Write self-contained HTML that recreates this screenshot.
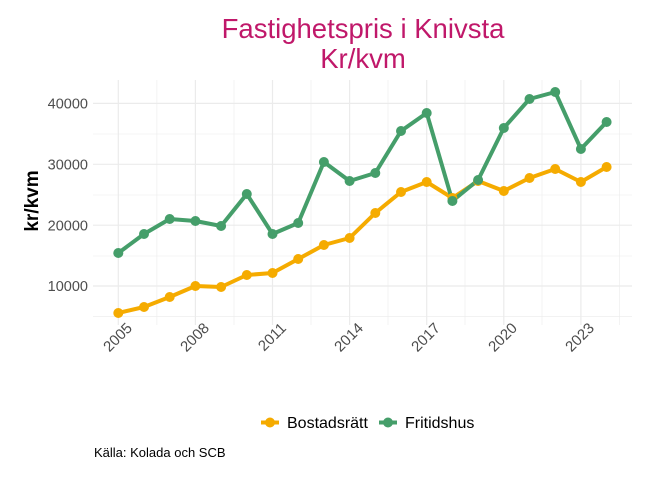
<!DOCTYPE html>
<html><head><meta charset="utf-8"><style>body{margin:0;background:#fff}svg{display:block}text{font-family:"Liberation Sans",sans-serif}</style></head><body>
<svg width="672" height="480" xmlns="http://www.w3.org/2000/svg">
<g stroke="#ebebeb" stroke-width="0.6">
<line x1="93" x2="632" y1="134" y2="134"/><line x1="93" x2="632" y1="195" y2="195"/><line x1="93" x2="632" y1="256" y2="256"/><line x1="93" x2="632" y1="316.7" y2="316.7"/>
<line y1="80" y2="325" x1="156.9" x2="156.9"/><line y1="80" y2="325" x1="234" x2="234"/><line y1="80" y2="325" x1="311" x2="311"/><line y1="80" y2="325" x1="388" x2="388"/><line y1="80" y2="325" x1="465" x2="465"/><line y1="80" y2="325" x1="542" x2="542"/><line y1="80" y2="325" x1="619.5" x2="619.5"/>
</g>
<g stroke="#ebebeb" stroke-width="1.2">
<line x1="93" x2="632" y1="103.4" y2="103.4"/><line x1="93" x2="632" y1="164.3" y2="164.3"/><line x1="93" x2="632" y1="225.2" y2="225.2"/><line x1="93" x2="632" y1="286" y2="286"/>
<line y1="80" y2="325" x1="118.3" x2="118.3"/><line y1="80" y2="325" x1="195.4" x2="195.4"/><line y1="80" y2="325" x1="272.5" x2="272.5"/><line y1="80" y2="325" x1="349.6" x2="349.6"/><line y1="80" y2="325" x1="426.7" x2="426.7"/><line y1="80" y2="325" x1="503.8" x2="503.8"/><line y1="80" y2="325" x1="580.9" x2="580.9"/>
</g>
<g font-size="14.5" fill="#4d4d4d" text-anchor="end">
<text x="88" y="108.5">40000</text><text x="88" y="169.5">30000</text><text x="88" y="230.3">20000</text><text x="88" y="291">10000</text>
</g>
<g font-size="15" fill="#4d4d4d" text-anchor="end">
<text transform="translate(133,329) rotate(-45)">2005</text>
<text transform="translate(210,329) rotate(-45)">2008</text>
<text transform="translate(287,329) rotate(-45)">2011</text>
<text transform="translate(364,329) rotate(-45)">2014</text>
<text transform="translate(441,329) rotate(-45)">2017</text>
<text transform="translate(518,329) rotate(-45)">2020</text>
<text transform="translate(595,329) rotate(-45)">2023</text>
</g>
<text transform="translate(38,201) rotate(-90)" font-size="19" font-weight="bold" text-anchor="middle" fill="#000">kr/kvm</text>
<text x="363" y="38" font-size="27.5" fill="#c0186a" text-anchor="middle">Fastighetspris i Knivsta</text>
<text x="363" y="68" font-size="27.5" fill="#c0186a" text-anchor="middle">Kr/kvm</text>
<g fill="none" stroke-width="4" stroke-linejoin="round">
<polyline stroke="#f5ab00" points="118.3,313 144,307 169.7,297 195.4,286 221.1,287 246.8,275 272.5,273 298.2,259 323.9,245 349.6,238 375.3,213 401,192 426.7,182 452.4,198 478.1,181 503.8,191 529.5,178 555.2,169 580.9,182 606.6,167"/>
<polyline stroke="#459e6a" points="118.3,253 144,234 169.7,219 195.4,221 221.1,226 246.8,194 272.5,234 298.2,223 323.9,162 349.6,181 375.3,173 401,131 426.7,113 452.4,201 478.1,180 503.8,128 529.5,99 555.2,92 580.9,149 606.6,122"/>
</g>
<g fill="#f5ab00">
<circle cx="118.3" cy="313" r="5"/><circle cx="144" cy="307" r="5"/><circle cx="169.7" cy="297" r="5"/><circle cx="195.4" cy="286" r="5"/><circle cx="221.1" cy="287" r="5"/><circle cx="246.8" cy="275" r="5"/><circle cx="272.5" cy="273" r="5"/><circle cx="298.2" cy="259" r="5"/><circle cx="323.9" cy="245" r="5"/><circle cx="349.6" cy="238" r="5"/><circle cx="375.3" cy="213" r="5"/><circle cx="401" cy="192" r="5"/><circle cx="426.7" cy="182" r="5"/><circle cx="452.4" cy="198" r="5"/><circle cx="478.1" cy="181" r="5"/><circle cx="503.8" cy="191" r="5"/><circle cx="529.5" cy="178" r="5"/><circle cx="555.2" cy="169" r="5"/><circle cx="580.9" cy="182" r="5"/><circle cx="606.6" cy="167" r="5"/>
</g>
<g fill="#459e6a">
<circle cx="118.3" cy="253" r="5"/><circle cx="144" cy="234" r="5"/><circle cx="169.7" cy="219" r="5"/><circle cx="195.4" cy="221" r="5"/><circle cx="221.1" cy="226" r="5"/><circle cx="246.8" cy="194" r="5"/><circle cx="272.5" cy="234" r="5"/><circle cx="298.2" cy="223" r="5"/><circle cx="323.9" cy="162" r="5"/><circle cx="349.6" cy="181" r="5"/><circle cx="375.3" cy="173" r="5"/><circle cx="401" cy="131" r="5"/><circle cx="426.7" cy="113" r="5"/><circle cx="452.4" cy="201" r="5"/><circle cx="478.1" cy="180" r="5"/><circle cx="503.8" cy="128" r="5"/><circle cx="529.5" cy="99" r="5"/><circle cx="555.2" cy="92" r="5"/><circle cx="580.9" cy="149" r="5"/><circle cx="606.6" cy="122" r="5"/>
</g>
<g>
<line x1="261" x2="279" y1="422.5" y2="422.5" stroke="#f5ab00" stroke-width="4"/><circle cx="270" cy="422.5" r="5" fill="#f5ab00"/>
<text x="287" y="428" font-size="16" fill="#000">Bostadsrätt</text>
<line x1="379" x2="397" y1="422.5" y2="422.5" stroke="#459e6a" stroke-width="4"/><circle cx="388" cy="422.5" r="5" fill="#459e6a"/>
<text x="405" y="428" font-size="16" fill="#000">Fritidshus</text>
</g>
<text x="94" y="457" font-size="13" fill="#000">Källa: Kolada och SCB</text>
</svg>
</body></html>
